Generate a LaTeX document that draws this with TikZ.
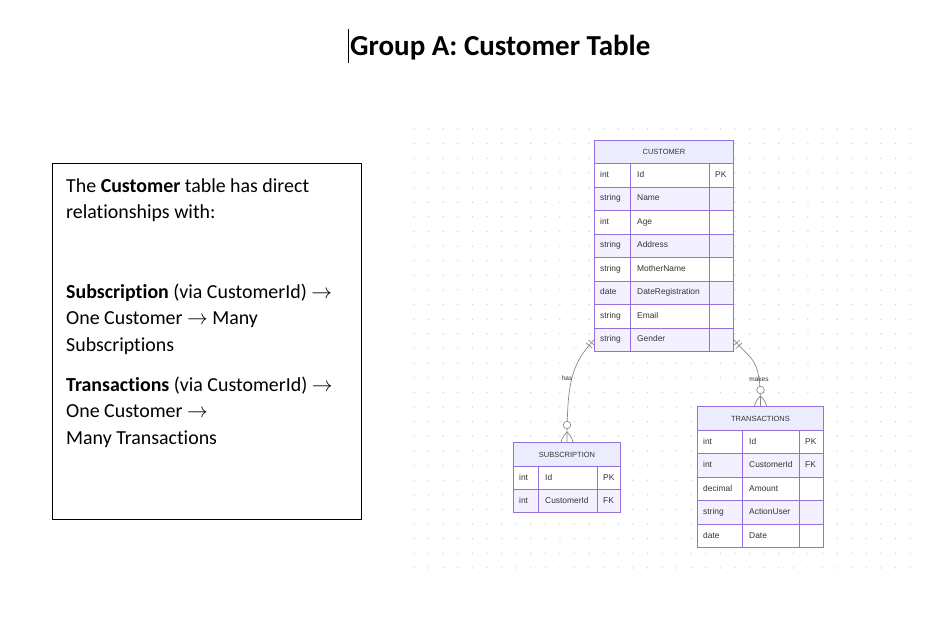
\documentclass[tikz,border=0pt]{standalone}
\usepackage{fontspec}
\setmainfont{Carlito}[Ligatures=NoCommon]
\newfontfamily\erfont{Liberation Sans}
\usetikzlibrary{positioning}
\definecolor{erpurple}{HTML}{9370DB}
\definecolor{erheadbg}{HTML}{ECECFF}
\definecolor{errowbg}{HTML}{F3F1FF}
\definecolor{erink}{HTML}{333333}
\definecolor{relgray}{HTML}{8A8A8A}
\definecolor{dotgray}{HTML}{D2D2D2}

\begin{document}
\begin{tikzpicture}[x=1pt, y=-1pt,
    erhead/.style={draw=erpurple, fill=erheadbg, line width=1pt, inner sep=0pt, anchor=north west,
        font=\erfont\fontsize{7.5}{9}\selectfont, text=erink},
    errow/.style={draw=erpurple, line width=1pt, inner sep=0pt, anchor=north west},
    ertext/.style={anchor=west, inner sep=0pt, text height=6.2pt, text depth=1.8pt,
        font=\erfont\fontsize{8.4}{10}\selectfont, text=erink},
    rel/.style={draw=relgray, line width=0.7pt},
    relbar/.style={draw=relgray, line width=0.7pt, inner sep=0pt, minimum width=0pt, minimum height=8pt, sloped},
    relzero/.style={circle, draw=relgray, fill=white, line width=0.7pt, inner sep=0pt, minimum size=7.5pt},
    rellabel/.style={font=\erfont\fontsize{6.5}{8}\selectfont, text=erink, inner sep=1pt},
    bodytext/.style={anchor=base west, inner sep=0pt, font=\fontsize{19.9}{26.5}\selectfont},
]
    \useasboundingbox[fill=white] (0,0) rectangle (951,622);

    % Dot grid
    \foreach \i in {0,...,34}
        \foreach \j in {0,...,30}
            \fill[dotgray] ({414+14.59*\i},{129+14.63*\j}) circle (0.75);

    % Title
    \node[anchor=base west, inner sep=0pt, font=\bfseries\fontsize{29}{32}\selectfont] (title) at (350,55) {Group A: Customer Table};
    \draw[line width=0.8pt] (348,29) -- (348,63);

    % Description box
    \node[draw, line width=0.8pt, minimum width=309pt, minimum height=356pt, anchor=north west, inner sep=0pt] (desc) at (52,163) {};
    \node[bodytext] (desc-l1) at (66,192) {The \textbf{Customer} table has direct};
    \node[bodytext] (desc-l2) at (66,218.5) {relationships with:};
    \node[bodytext] (desc-l3) at (66,298) {\textbf{Subscription} (via CustomerId) $\rightarrow$};
    \node[bodytext] (desc-l4) at (66,324.5) {One Customer $\rightarrow$ Many};
    \node[bodytext] (desc-l5) at (66,351) {Subscriptions};
    \node[bodytext] (desc-l6) at (66,391) {\textbf{Transactions} (via CustomerId) $\rightarrow$};
    \node[bodytext] (desc-l7) at (66,417.5) {One Customer $\rightarrow$};
    \node[bodytext] (desc-l8) at (66,444) {Many Transactions};

    % Customer table
    \node[erhead, minimum width=139pt, minimum height=23pt] (cust) at (594,140) {CUSTOMER};
    \foreach \t/\n/\k [count=\i from 0] in {int/Id/PK, string/Name/{}, int/Age/{}, string/Address/{},
            string/MotherName/{}, date/DateRegistration/{}, string/Email/{}, string/Gender/{}} {
        \ifodd\i \def\rowbg{errowbg}\else\def\rowbg{white}\fi
        \node[errow, fill=\rowbg, minimum width=139pt, minimum height=23.5pt] (cust-r\i) at (594,{163+23.5*\i}) {};
        \node[ertext] (cust-t\i) at ([xshift=6pt]cust-r\i.west) {\t};
        \node[ertext] (cust-n\i) at ([xshift=43pt]cust-r\i.west) {\n};
        \node[ertext] (cust-k\i) at ([xshift=121pt]cust-r\i.west) {\k};
    }
    \draw[erpurple, line width=1pt] (630,163) -- (630,351) (709,163) -- (709,351);

    % Subscription table
    \node[erhead, minimum width=107pt, minimum height=24pt] (sub) at (513,442) {SUBSCRIPTION};
    \foreach \t/\n/\k [count=\i from 0] in {int/Id/PK, int/CustomerId/FK} {
        \ifodd\i \def\rowbg{errowbg}\else\def\rowbg{white}\fi
        \node[errow, fill=\rowbg, minimum width=107pt, minimum height=23pt] (sub-r\i) at (513,{466+23*\i}) {};
        \node[ertext] (sub-t\i) at ([xshift=6pt]sub-r\i.west) {\t};
        \node[ertext] (sub-n\i) at ([xshift=32pt]sub-r\i.west) {\n};
        \node[ertext] (sub-k\i) at ([xshift=90pt]sub-r\i.west) {\k};
    }
    \draw[erpurple, line width=1pt] (538,466) -- (538,512) (597,466) -- (597,512);

    % Transactions table
    \node[erhead, minimum width=126pt, minimum height=24pt] (trn) at (697,406) {TRANSACTIONS};
    \foreach \t/\n/\k [count=\i from 0] in {int/Id/PK, int/CustomerId/FK, decimal/Amount/{},
            string/ActionUser/{}, date/Date/{}} {
        \ifodd\i \def\rowbg{errowbg}\else\def\rowbg{white}\fi
        \node[errow, fill=\rowbg, minimum width=126pt, minimum height=23.4pt] (trn-r\i) at (697,{430+23.4*\i}) {};
        \node[ertext] (trn-t\i) at ([xshift=6pt]trn-r\i.west) {\t};
        \node[ertext] (trn-n\i) at ([xshift=52pt]trn-r\i.west) {\n};
        \node[ertext] (trn-k\i) at ([xshift=108pt]trn-r\i.west) {\k};
    }
    \draw[erpurple, line width=1pt] (742,430) -- (742,547) (799,430) -- (799,547);

    % Relationships
    \draw[rel] (cust-r7.west) .. controls +(-22,24) and +(0,-62) .. (sub.north)
        node[relbar, pos=0.04] {} node[relbar, pos=0.08] {};
    \draw[rel] ([yshift=10pt]sub.north) to[bend right=15] ([xshift=-6pt]sub.north)
        ([yshift=10pt]sub.north) to[bend left=15] ([xshift=6pt]sub.north);
    \node[relzero] (has-o) at ([yshift=17pt]sub.north) {};
    \node[rellabel] (has-lbl) at (567,378) {has};

    \draw[rel] (cust-r7.east) .. controls +(18,22) and +(0,-50) .. (trn.north)
        node[relbar, pos=0.05] {} node[relbar, pos=0.1] {};
    \draw[rel] ([yshift=10pt]trn.north) to[bend right=15] ([xshift=-6pt]trn.north)
        ([yshift=10pt]trn.north) to[bend left=15] ([xshift=6pt]trn.north);
    \node[relzero] (makes-o) at ([yshift=16pt]trn.north) {};
    \node[rellabel] (makes-lbl) at (759,379) {makes};
\end{tikzpicture}
\end{document}
